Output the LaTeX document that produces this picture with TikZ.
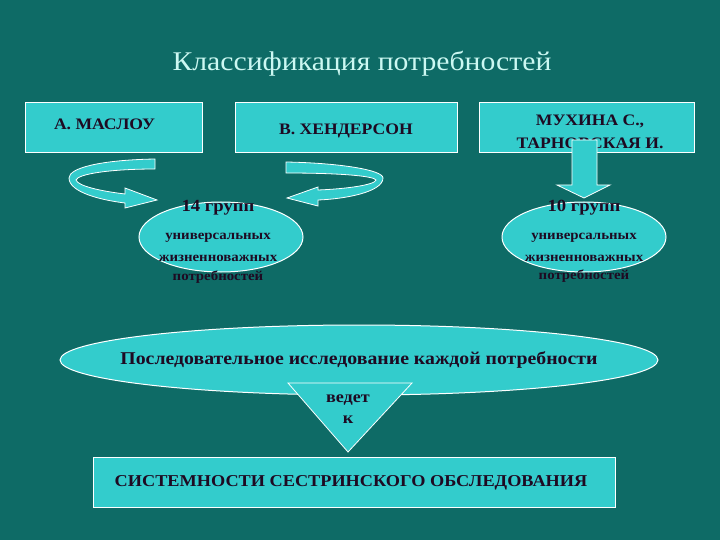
\documentclass[tikz,border=0pt]{standalone}
\usepackage{fontspec}
\setmainfont{Liberation Serif}
\newfontfamily\gar[FakeStretch=1.1]{Liberation Serif}
\usetikzlibrary{shapes.geometric}
\definecolor{bg}{HTML}{0E6B66}
\definecolor{turq}{HTML}{33CCCC}
\definecolor{ink}{HTML}{1E0A22}
\definecolor{titlec}{HTML}{CCF8F2}
\tikzset{
  box/.style={draw=white, line width=1pt, fill=turq, inner sep=0pt},
  oval/.style={ellipse, draw=white, line width=1pt, fill=turq, inner sep=0pt},
  lbl/.style={text=ink, font=\gar\bfseries\fontsize{16}{18}\selectfont, align=center, inner sep=0pt},
  small/.style={text=ink, font=\gar\bfseries\fontsize{13.5}{15}\selectfont, inner sep=0pt},
  shape3d/.style={fill=turq, draw=white, line width=0.8pt, line join=miter}
}
\begin{document}
\begin{tikzpicture}[x=1pt,y=-1pt]
\fill[bg] (0,0) rectangle (720,540);
\useasboundingbox (0,0) rectangle (720,540);
% title
\node[text=titlec, font=\gar\fontsize{27}{30}\selectfont, inner sep=0pt] (title) at (362,64) {Классификация потребностей};
% boxes
\node[box, minimum width=177pt, minimum height=50pt] (A) at (113.5,128) {};
\node[lbl] (Atext) at (104.5,124) {А. МАСЛОУ};
\node[box, minimum width=222pt, minimum height=50pt] (B) at (346,128) {};
\node[lbl] (Btext) at (346,131) {В. ХЕНДЕРСОН};
\node[box, minimum width=215pt, minimum height=50pt] (C) at (586.5,128) {};
\node[lbl] (Ctext1) at (590,121) {МУХИНА С.,};
\node[lbl] (Ctext2) at (590,143) {ТАРНОВСКАЯ И.};
% down arrow
\filldraw[shape3d] (572,140) -- (597,140) -- (597,185) -- (610,185) -- (584,198) -- (557,185) -- (572,185) -- cycle;
% curved arrows
\filldraw[shape3d] (155,159)
  .. controls (100,160) and (69,168) .. (69,178)
  .. controls (69,192) and (100,200) .. (125,203)
  -- (125,208) -- (157,200) -- (125,188) -- (125,194)
  .. controls (100,191) and (78,186) .. (76,180)
  .. controls (78,174) and (110,169) .. (155,169) -- cycle;
\filldraw[shape3d] (286,162)
  .. controls (340,163) and (383,170) .. (383,178)
  .. controls (383,192) and (345,199) .. (318,200)
  -- (318,206) -- (287,198) -- (318,187) -- (318,190)
  .. controls (345,189) and (375,185) .. (376,180)
  .. controls (374,176) and (340,173) .. (286,173) -- cycle;
% ellipses
\node[oval, minimum width=164pt, minimum height=70pt] (EL) at (221,237) {};
\node[lbl, font=\gar\bfseries\fontsize{17}{19}\selectfont] (EL1) at (218,208) {14 групп};
\node[small] (EL2) at (218,238) {универсальных};
\node[small] (EL3) at (218,258) {жизненноважных};
\node[small] (EL4) at (218,277) {потребностей};
\node[oval, minimum width=164pt, minimum height=70pt] (ER) at (584,237) {};
\node[lbl, font=\gar\bfseries\fontsize{17}{19}\selectfont] (ER1) at (584,208) {10 групп};
\node[small] (ER2) at (584,238) {универсальных};
\node[small] (ER3) at (584,258) {жизненноважных};
\node[small] (ER4) at (584,276) {потребностей};
% big ellipse
\node[oval, minimum width=598pt, minimum height=70pt] (BE) at (359,360) {};
\node[lbl, font=\gar\bfseries\fontsize{18}{20}\selectfont] (BEtext) at (359,360) {Последовательное исследование каждой потребности};
% triangle
\coordinate (T1) at (288,383);
\coordinate (T2) at (412,383);
\coordinate (T3) at (348,452);
\filldraw[shape3d] (T1) -- (T2) -- (T3) -- cycle;
\node[small, font=\gar\bfseries\fontsize{16.5}{18}\selectfont] (tv1) at (348,400) {ведет};
\node[small, font=\gar\bfseries\fontsize{16.5}{18}\selectfont] (tv2) at (348,420) {к};
% bottom box
\node[box, minimum width=522pt, minimum height=50pt] (D) at (354,482) {};
\node[lbl, font=\gar\bfseries\fontsize{16.6}{18}\selectfont] (Dtext) at (351,483) {СИСТЕМНОСТИ СЕСТРИНСКОГО ОБСЛЕДОВАНИЯ};
\end{tikzpicture}
\end{document}
